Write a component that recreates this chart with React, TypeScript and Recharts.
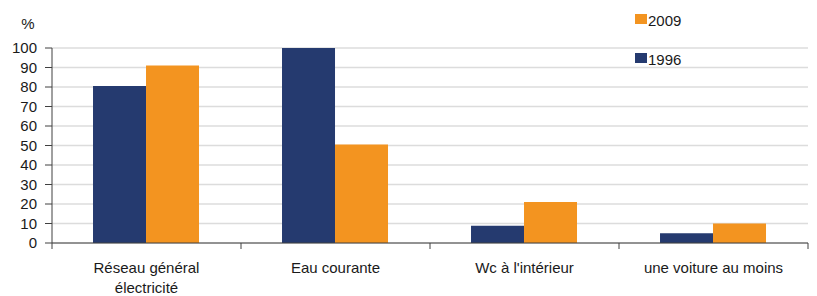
import { BarChart, Bar, XAxis, YAxis, CartesianGrid } from "recharts";

const categories = ["Réseau général\nélectricité", "Eau courante", "Wc à l'intérieur", "une voiture au moins"];
const values1996 = [80.5, 100, 8.8, 5];
const values2009 = [91, 50.5, 21, 10];
const yTicks = [0, 10, 20, 30, 40, 50, 60, 70, 80, 90, 100];
const legendItems = [
  { label: "2009", color: "#F39420" },
  { label: "1996", color: "#253A6F" },
];

const data = categories.map((name, i) => ({
  name,
  y1996: values1996[i],
  y2009: values2009[i],
}));

const font = "'Liberation Sans', Arial, sans-serif";

function CategoryTick(props: any) {
  const { x, y, payload, index } = props;
  const half = payload && payload.offset ? payload.offset : 94.5;
  const lines = String(payload.value).split("\n");
  const last = index === categories.length - 1;
  return (
    <g>
      <line x1={x - half} x2={x - half} y1={y} y2={y + 6} stroke="#404040" />
      {last && <line x1={x + half} x2={x + half} y1={y} y2={y + 6} stroke="#404040" />}
      <text x={x} y={y} textAnchor="middle" fontSize={15} fill="#1a1a1a" fontFamily={font}>
        {lines.map((l, i) => (
          <tspan key={i} x={x} dy={i === 0 ? 30 : 20}>
            {l}
          </tspan>
        ))}
      </text>
    </g>
  );
}

export default function App() {
  return (
    <div style={{ position: "relative", width: 801, height: 288, fontFamily: font }}>
      <BarChart
        width={801}
        height={288}
        data={data}
        margin={{ top: 40, right: 1, left: 0, bottom: 23 }}
        barCategoryGap="21.7%"
        barGap={0}
      >
        <CartesianGrid vertical={false} stroke="#dcdcdc" strokeWidth={1.5} />
        <XAxis
          dataKey="name"
          tick={<CategoryTick />}
          tickLine={false}
          tickSize={0}
          tickMargin={0}
          axisLine={{ stroke: "#404040" }}
          interval={0}
          height={30}
        />
        <YAxis
          domain={[0, 100]}
          ticks={yTicks}
          width={44}
          tickSize={7}
          tickMargin={8}
          interval={0}
          axisLine={{ stroke: "#404040" }}
          tickLine={{ stroke: "#404040" }}
          tick={{ fontSize: 15, fill: "#1a1a1a", fontFamily: font }}
          label={{ value: "%", position: "top", offset: 19, dx: -2, fontSize: 15, fill: "#1a1a1a", fontFamily: font }}
        />
        <Bar dataKey="y1996" fill="#253A6F" isAnimationActive={false} />
        <Bar dataKey="y2009" fill="#F39420" isAnimationActive={false} />
      </BarChart>
      <div style={{ position: "absolute", top: 3, left: 627, fontSize: 15, color: "#1a1a1a" }}>
        {legendItems.map((it) => (
          <div key={it.label} style={{ display: "flex", alignItems: "center", height: 18, marginBottom: 21 }}>
            <span
              style={{
                width: 12,
                height: 10,
                background: it.color,
                display: "inline-block",
                marginRight: 1,
                position: "relative",
                top: -1,
              }}
            />
            {it.label}
          </div>
        ))}
      </div>
    </div>
  );
}
